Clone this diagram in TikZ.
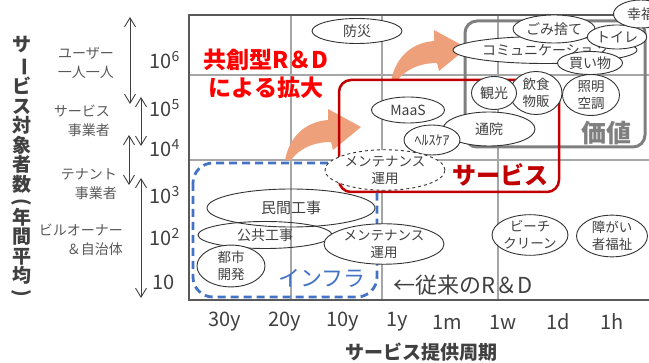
\documentclass[tikz,border=0pt]{standalone}
\usepackage{fontspec}
\setmainfont{Noto Sans CJK JP}
\usetikzlibrary{shapes.geometric,arrows.meta}
\definecolor{txtgray}{HTML}{404040}
\definecolor{lblgray}{HTML}{595959}
\definecolor{linegray}{HTML}{A6A6A6}
\definecolor{svcred}{HTML}{C00000}
\definecolor{valgray}{HTML}{7F7F7F}
\definecolor{infblue}{HTML}{4472C4}
\definecolor{growth}{HTML}{EEA07A}
\newcommand{\fsz}[2]{\fontsize{#1}{#2}\selectfont}
\newcommand{\vrot}[1]{\rotatebox[origin=c]{-90}{#1}}
\begin{document}
\begin{tikzpicture}[x=1pt, y=-1pt]

    \tikzstyle{bubble} = [ellipse, draw=black!80, fill=white, line width=0.9pt, inner sep=0pt, text=txtgray, align=center, font=\fsz{14}{17}]
    \tikzstyle{pair} = [bubble, font=\fsz{13.5}{17}]
    \tikzstyle{gridline} = [linegray, line width=1.2pt]
    \tikzstyle{spanarr} = [txtgray, line width=0.9pt, {Straight Barb[length=9pt,width=11pt]}-{Straight Barb[length=9pt,width=11pt]}]
    \tikzstyle{tickval} = [text=txtgray, font=\fsz{20}{24}]
    \tikzstyle{usertype} = [text=lblgray, font=\fsz{14}{19}, align=right, anchor=east, inner sep=0pt]

    \useasboundingbox (0,0) rectangle (649,363);

    \draw[gridline] (291,15) -- (291,300);
    \draw[gridline] (382,15) -- (382,300);
    \draw[gridline] (498,15) -- (498,300);
    \draw[gridline] (189,75) -- (649,75);
    \draw[gridline] (189,160) -- (649,160);
    \draw[lblgray, line width=1.5pt] (649,15) -- (189,15) -- (189,300) -- (649,300);

    \node[tickval, anchor=west] (t6) at (146,60) {10\textsuperscript{6}};
    \node[tickval, anchor=west] (t5) at (146,108) {10\textsuperscript{5}};
    \node[tickval, anchor=west] (t4) at (146,148) {10\textsuperscript{4}};
    \node[tickval, anchor=west] (t3) at (146,195) {10\textsuperscript{3}};
    \node[tickval, anchor=west] (t2) at (146,237) {10\textsuperscript{2}};
    \node[tickval, anchor=west] (t1) at (149,282) {10};
    \foreach \lab/\xx in {30y/225, 20y/285, 10y/343, 1y/397, 1m/447, 1w/503, 1d/558, 1h/612}
        \node[tickval] (x\lab) at (\xx,322) {\lab};

    \coordinate (a1) at (130,17);
    \coordinate (a2) at (130,104);
    \coordinate (b1) at (141,97);
    \coordinate (b2) at (141,146);
    \coordinate (c1) at (129,135);
    \coordinate (c2) at (129,185);
    \coordinate (d1) at (141,178);
    \coordinate (d2) at (141,298);
    \draw[spanarr] (a1) -- (a2);
    \draw[spanarr] (b1) -- (b2);
    \draw[spanarr] (c1) -- (c2);
    \draw[spanarr] (d1) -- (d2);

    \node[usertype] (users) at (114,63) {ユーザー\\一人一人};
    \node[usertype] (providers) at (110,121) {サービス\\事業者};
    \node[usertype] (tenants) at (117,184) {テナント\\事業者};
    \node[usertype] (owners) at (123,240) {ビルオーナー\\＆自治体};

    \node[text=txtgray, font=\fsz{19}{19.5}\bfseries, align=center, inner sep=0pt] (ytitle) at (22,168)
        {サ\\\vrot{ー}\\ビ\\ス\\対\\象\\者\\数\\[-3pt]\vrot{(}\\[-3pt]年\\間\\平\\均\\[-3pt]\vrot{)}};
    \node[text=txtgray, font=\fsz{19}{22}\bfseries] (xtitle) at (421,352) {サービス提供周期};

    \draw[valgray, line width=3pt, rounded corners=12pt] (465,21) rectangle (645,147);
    \foreach \tx/\ty in {361/127, 467/48}
        \fill[growth, shift={(\tx,\ty)}] (-76,33) .. controls (-72,12) and (-58,-5) .. (-33,-7) -- (-33,-18) -- (0,0) -- (-28,23) -- (-30,15) .. controls (-48,15) and (-62,22) .. (-70,33) -- cycle;
    \draw[svcred, line width=2.5pt, rounded corners=12pt] (339,80) rectangle (559,192);
    \draw[infblue, line width=2.8pt, dash pattern=on 8pt off 5pt, rounded corners=20pt] (193,163) rectangle (377,297);

    \node[bubble, minimum width=90pt, minimum height=25pt] (bousai) at (357,31) {防災};
    \node[bubble, minimum width=73pt, minimum height=26pt] (maas) at (408,110) {MaaS};
    \node[bubble, minimum width=92pt, minimum height=34pt] (tsuuin) at (489,129) {通院};
    \node[bubble, minimum width=56pt, minimum height=30pt] (health) at (432,140) {ﾍﾙｽｹｱ};
    \node[pair, minimum width=52pt, minimum height=43pt] (inshoku) at (536,93) {飲食\\物販};
    \node[bubble, minimum width=45pt, minimum height=33pt] (kankou) at (494,93) {観光};
    \node[pair, minimum width=57pt, minimum height=34pt] (shoumei) at (591,95) {照明\\空調};
    \node[bubble, minimum width=184pt, minimum height=27pt] (comm) at (545,50) {コミュニケーション};
    \node[bubble, minimum width=82pt, minimum height=28pt] (gomi) at (554,29) {ごみ捨て};
    \node[bubble, minimum width=50pt, minimum height=24pt] (toilet) at (617,37) {トイレ};
    \node[bubble, minimum width=55pt, minimum height=28pt] (koufuku) at (641,14) {幸福};
    \node[bubble, minimum width=65pt, minimum height=23pt] (kaimono) at (590,63) {買い物};
    \node[pair, dashed, minimum width=120pt, minimum height=40pt] (maintsvc) at (385,170) {メンテナンス\\運用};

    \node[bubble, fill=none, minimum width=134pt, minimum height=27pt] (koukyou) at (265,235) {公共工事};
    \node[bubble, fill=none, font=\fsz{15}{18}, minimum width=168pt, minimum height=38pt] (minkan) at (291,208) {民間工事};
    \node[pair, minimum width=68pt, minimum height=39pt] (toshi) at (231,266) {都市\\開発};
    \node[pair, minimum width=120pt, minimum height=38pt] (maintinf) at (384,244) {メンテナンス\\運用};
    \node[pair, minimum width=76pt, minimum height=36pt] (beach) at (530,235) {ビーチ\\クリーン};
    \node[pair, minimum width=71pt, minimum height=38pt] (welfare) at (612,236) {障がい\\者福祉};

    \node[text=red, font=\fsz{23}{28}\bfseries, align=center] (cocreate) at (266,74) {共創型R＆D\\による拡大};
    \node[text=svcred, font=\fsz{24}{28}\bfseries] (svclab) at (500,175) {サービス};
    \node[text=valgray, font=\fsz{25}{28}\bfseries] (vallab) at (606,133) {価値};
    \node[text=infblue, font=\fsz{22}{26}] (inflab) at (322,278) {インフラ};
    \node[text=txtgray, font=\fsz{22}{26}] (convlab) at (463,285) {←従来のR＆D};

\end{tikzpicture}
\end{document}
